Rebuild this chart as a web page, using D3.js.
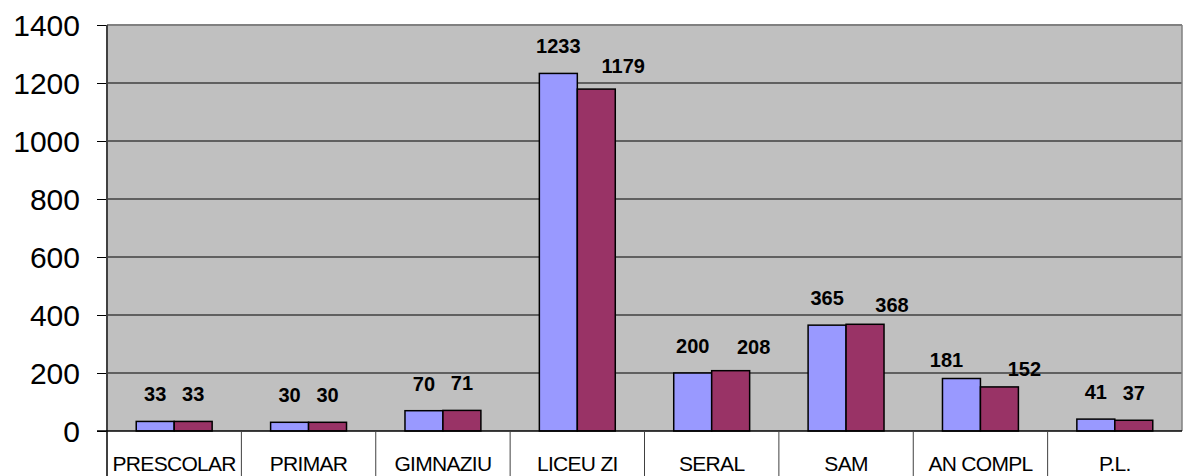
<!DOCTYPE html>
<html>
<head>
<meta charset="utf-8">
<script src="https://cdn.jsdelivr.net/npm/d3@7"></script>
<style>
  html, body { margin: 0; padding: 0; background: #fff; }
  svg { display: block; font-family: "Liberation Sans", Arial, sans-serif; }
</style>
</head>
<body>
<svg id="chart" width="1183" height="476"></svg>
<script>
// ---- data ----
const categories = ["PRESCOLAR", "PRIMAR", "GIMNAZIU", "LICEU ZI", "SERAL", "SAM", "AN COMPL", "P.L."];
const seriesNames = ["A", "B"];
const seriesA = [33, 30, 70, 1233, 200, 365, 181, 41];
const seriesB = [33, 30, 71, 1179, 208, 368, 152, 37];
const yTicks = [0, 200, 400, 600, 800, 1000, 1200, 1400];

// label nudges (layout only, [dx, dy]) per category, per series
const labelNudgeA = [[0,0],[0,0],[0,0],[0,0],[0,0],[0,0],[-15,8],[0,0]];
const labelNudgeB = [[0,0],[0,0],[0,0],[27,4],[23,3],[27,8],[25,9],[0,0]];

const colors = { A: "#9999FF", B: "#993366" };

const svg = d3.select("#chart");
const mLeft = 107, mRight = 1182, mTop = 25, mBottom = 431, H = 476;

const x = d3.scaleBand().domain(categories).range([mLeft, mRight]).paddingInner(0).paddingOuter(0);
const x1 = d3.scaleBand().domain(seriesNames).range([0, x.bandwidth()]).paddingInner(0).paddingOuter(0.77);
const y = d3.scaleLinear().domain([0, 1400]).range([mBottom, mTop]);

// plot background
svg.append("rect").attr("x", mLeft).attr("y", mTop).attr("width", mRight - mLeft).attr("height", mBottom - mTop)
  .attr("fill", "#C0C0C0");

// gridlines
svg.append("g").selectAll("line").data(yTicks.filter(d => d > 0 && d < 1400)).join("line")
  .attr("x1", mLeft).attr("x2", mRight).attr("y1", d => y(d)).attr("y2", d => y(d))
  .attr("stroke", "#000").attr("stroke-width", 1);

// top border and right border
svg.append("line").attr("x1", mLeft).attr("x2", mRight).attr("y1", mTop).attr("y2", mTop)
  .attr("stroke", "#808080").attr("stroke-width", 2);
svg.append("line").attr("x1", mRight).attr("x2", mRight).attr("y1", mTop).attr("y2", mBottom)
  .attr("stroke", "#808080").attr("stroke-width", 1.5);

// y axis
const yAxis = d3.axisLeft(y).tickValues(yTicks).tickSize(10).tickPadding(17).tickFormat(d3.format("d"));
const gy = svg.append("g").attr("transform", `translate(${mLeft},0)`).call(yAxis);
gy.select(".domain").remove();
gy.selectAll(".tick line").attr("stroke", "#000").attr("stroke-width", 1);
gy.selectAll(".tick text").attr("font-size", 30).attr("fill", "#000")
  .attr("font-family", "'Liberation Sans', Arial, sans-serif").attr("dy", "0.36em");

// bars
const rows = categories.map((c, i) => ({ cat: c, i, vals: [
  { s: "A", v: seriesA[i], nudge: labelNudgeA[i] },
  { s: "B", v: seriesB[i], nudge: labelNudgeB[i] }
]}));

const groups = svg.append("g").selectAll("g").data(rows).join("g")
  .attr("transform", d => `translate(${x(d.cat)},0)`);

groups.selectAll("rect").data(d => d.vals).join("rect")
  .attr("x", d => x1(d.s)).attr("width", x1.bandwidth())
  .attr("y", d => y(d.v)).attr("height", d => y(0) - y(d.v))
  .attr("fill", d => colors[d.s]).attr("stroke", "#000").attr("stroke-width", 1.5);

groups.selectAll("text").data(d => d.vals).join("text")
  .attr("x", d => x1(d.s) + x1.bandwidth() / 2 + d.nudge[0])
  .attr("y", d => y(d.v) - 20 + d.nudge[1])
  .attr("text-anchor", "middle").attr("font-weight", "bold").attr("font-size", 20).attr("fill", "#000")
  .text(d => d.v);

// left axis line (extends through category label area)
svg.append("line").attr("x1", mLeft).attr("x2", mLeft).attr("y1", mTop).attr("y2", H)
  .attr("stroke", "#404040").attr("stroke-width", 2);

// baseline
svg.append("line").attr("x1", mLeft - 10).attr("x2", mRight).attr("y1", mBottom).attr("y2", mBottom)
  .attr("stroke", "#000").attr("stroke-width", 1.5);

// category separators in label area
svg.append("g").selectAll("line").data(categories.slice(1)).join("line")
  .attr("x1", d => x(d)).attr("x2", d => x(d)).attr("y1", mBottom).attr("y2", H)
  .attr("stroke", "#404040").attr("stroke-width", 1);

// category labels
svg.append("g").selectAll("text").data(categories).join("text")
  .attr("x", d => x(d) + x.bandwidth() / 2).attr("y", 471)
  .attr("text-anchor", "middle").attr("font-size", 21).attr("fill", "#000")
  .attr("letter-spacing", "-0.7")
  .text(d => d);
</script>
</body>
</html>
